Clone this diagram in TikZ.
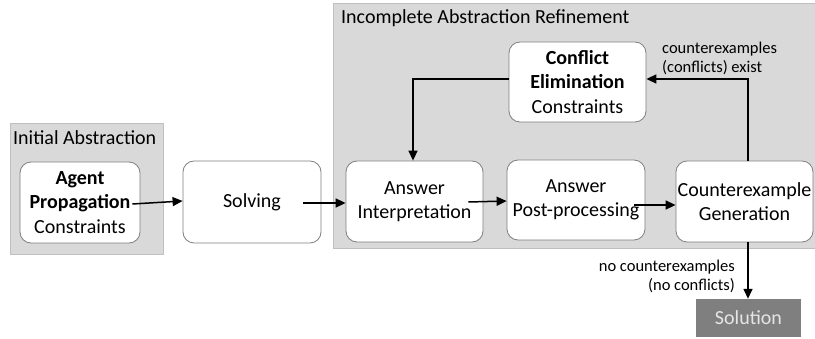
\documentclass[tikz,border=0pt]{standalone}
\usepackage{fontspec}
\setmainfont{Carlito}
\usetikzlibrary{arrows.meta,positioning,calc}
\definecolor{groupfill}{HTML}{D9D9D9}
\definecolor{groupline}{HTML}{BFBFBF}
\definecolor{boxline}{HTML}{7F7F7F}
\definecolor{solfill}{HTML}{7F7F7F}
\tikzset{
  group/.style={draw=groupline, fill=groupfill, line width=0.8pt},
  procbox/.style={draw=boxline, fill=white, rounded corners=11pt, line width=0.8pt,
    align=center, inner sep=0pt, font=\fontsize{20}{24.3}\selectfont},
  solbox/.style={fill=solfill, text=white!90!black, inner sep=0pt,
    font=\fontsize{20}{24}\selectfont},
  grouptitle/.style={font=\fontsize{20}{24}\selectfont, inner sep=0pt, anchor=west},
  edgelabel/.style={font=\fontsize{16.5}{19}\selectfont, inner sep=0pt},
  flow/.style={line width=1.5pt, -{Triangle[length=10pt,width=9pt]}},
}
\begin{document}
\begin{tikzpicture}[x=1pt,y=-1pt]
\useasboundingbox (0,0) rectangle (815,339);
% groups
\path[group] (10,123) rectangle (163,254);
\path[group] (333,3) rectangle (816,248);
\node[grouptitle] (t1) at (13,138) {Initial Abstraction};
\node[grouptitle] (t2) at (341,18) {Incomplete Abstraction Refinement};
% boxes
\node[procbox, minimum width=120pt, minimum height=81pt] (agent) at (80,202.5)
  {\textbf{Agent}\\\textbf{Propagation}\\Constraints};
\node[procbox, minimum width=138pt, minimum height=82pt] (solving) at (252,202) {Solving};
\node[procbox, minimum width=137pt, minimum height=81pt] (interp) at (414.5,201.5) {Answer\\Interpretation};
\node[procbox, minimum width=138pt, minimum height=80pt] (post) at (576,200) {Answer\\Post-processing};
\node[procbox, minimum width=137pt, minimum height=81pt] (counter) at (744.5,201.5) {Counterexample\\Generation};
\node[procbox, minimum width=137pt, minimum height=80pt] (conflict) at (577.5,82)
  {\textbf{Conflict}\\\textbf{Elimination}\\Constraints};
\node[solbox, minimum width=105pt, minimum height=38pt] (solution) at (748.5,318) {Solution};
% labels
\node[edgelabel, align=left, anchor=west] (l1) at (662,58) {counterexamples\\(conflicts) exist};
\node[edgelabel, align=right, anchor=east] (l2) at (735,276.5) {no counterexamples\\(no conflicts)};
% connectors
\draw[flow] ([xshift=-8pt,yshift=-1.5pt]agent.east) -- (solving.west |- {(0,201)});
\draw[flow] ([xshift=-18pt,yshift=-1pt]solving.east) -- (interp.west |- {(0,203)});
\draw[flow] ([xshift=-15pt,yshift=-0.5pt]interp.east) -- (post.west |- {(0,201)});
\draw[flow] ([xshift=-11pt,yshift=-5pt]post.east) -- (counter.west |- {(0,205)});
\coordinate (up) at ([xshift=3.5pt]counter.north);
\coordinate (down) at ([xshift=3.5pt]counter.south);
\draw[flow] (up) |- ([yshift=3pt]conflict.east);
\draw[flow] ([yshift=3pt]conflict.west) -| ([xshift=-1.5pt]interp.north);
\draw[flow] (down) -- (down |- solution.north);
\end{tikzpicture}
\end{document}
